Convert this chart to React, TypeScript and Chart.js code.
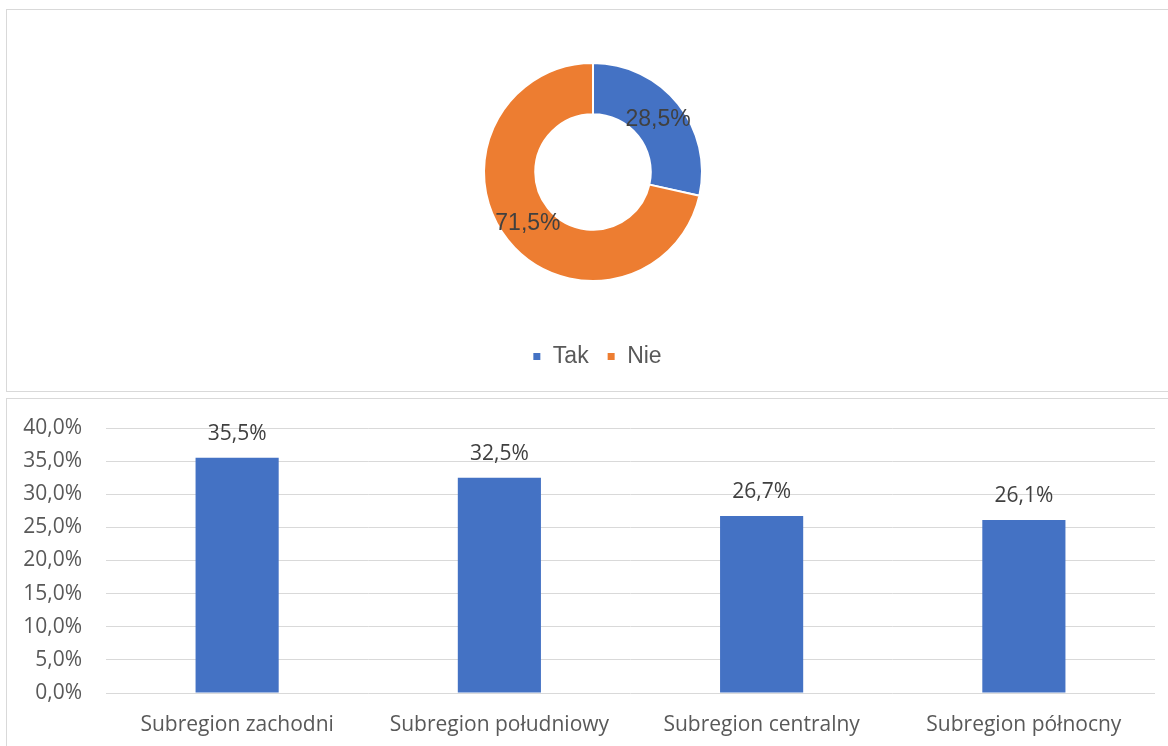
import React, { useEffect, useRef } from 'react';
import { Chart, registerables } from 'chart.js';

Chart.register(...registerables);

const pieLabels = ['Tak', 'Nie'];
const pieValues = [28.5, 71.5];
const pieColors = ['#4472C4', '#ED7D31'];

const regions = ['Subregion zachodni', 'Subregion południowy', 'Subregion centralny', 'Subregion północny'];
const regionValues = [35.5, 32.5, 26.7, 26.1];
const barColor = '#4472C4';

const yMin = 0;
const yMax = 40;
const yStep = 5;

const fmt = (v: number) => v.toFixed(1).replace('.', ',') + '%';

const BAR_FONT = '"Open Sans", "Noto Sans", sans-serif';
const PIE_FONT = '"Liberation Sans", Arial, sans-serif';

const pieLabelPlugin = {
  id: 'pieLabels',
  afterDatasetsDraw(chart: any) {
    const ctx = chart.ctx;
    const meta = chart.getDatasetMeta(0);
    ctx.save();
    ctx.font = `23px ${PIE_FONT}`;
    ctx.fillStyle = '#404040';
    ctx.textAlign = 'center';
    ctx.textBaseline = 'middle';
    meta.data.forEach((arc: any, i: number) => {
      const p = arc.tooltipPosition();
      ctx.fillText(fmt(pieValues[i]), p.x, p.y);
    });
    ctx.restore();
  },
};

const legendShiftPlugin = {
  id: 'legendShift',
  afterLayout(chart: any) {
    if (chart.legend) {
      chart.legend.left += 4;
      chart.legend.right += 4;
    }
  },
};

const barLabelPlugin = {
  id: 'barLabels',
  afterDatasetsDraw(chart: any) {
    const ctx = chart.ctx;
    const meta = chart.getDatasetMeta(0);
    ctx.save();
    ctx.font = `21px ${BAR_FONT}`;
    ctx.fillStyle = '#404040';
    ctx.textAlign = 'center';
    ctx.textBaseline = 'middle';
    meta.data.forEach((bar: any, i: number) => {
      ctx.fillText(fmt(regionValues[i]), bar.x, bar.y - 24);
    });
    ctx.restore();
  },
};

export default function App() {
  const pieRef = useRef<HTMLCanvasElement | null>(null);
  const barRef = useRef<HTMLCanvasElement | null>(null);

  useEffect(() => {
    const pie = new Chart(pieRef.current as HTMLCanvasElement, {
      type: 'doughnut',
      data: {
        labels: pieLabels,
        datasets: [
          {
            data: pieValues,
            backgroundColor: pieColors,
            borderColor: '#ffffff',
            borderWidth: 2,
          },
        ],
      },
      options: {
        responsive: false,
        animation: false,
        cutout: '53%',
        events: [],
        layout: { padding: 0 },
        plugins: {
          tooltip: { enabled: false },
          legend: {
            position: 'bottom',
            title: { display: true, text: '', font: { size: 10, lineHeight: 1 }, padding: { top: 35, bottom: 0 } },
            labels: {
              boxWidth: 9,
              boxHeight: 9,
              padding: 18,
              color: '#595959',
              font: { family: PIE_FONT, size: 23 },
            },
          },
        },
      },
      plugins: [pieLabelPlugin, legendShiftPlugin],
    } as any);

    const bar = new Chart(barRef.current as HTMLCanvasElement, {
      type: 'bar',
      data: {
        labels: regions,
        datasets: [
          {
            data: regionValues,
            backgroundColor: barColor,
            categoryPercentage: 1,
            barPercentage: 0.317,
          },
        ],
      },
      options: {
        responsive: false,
        animation: false,
        events: [],
        layout: { padding: { top: 30, right: 13, left: 0, bottom: 0 } },
        plugins: {
          legend: { display: false },
          tooltip: { enabled: false },
        },
        scales: {
          x: {
            grid: { display: false, drawTicks: false },
            border: { display: false },
            ticks: {
              color: '#595959',
              padding: 19,
              font: { family: BAR_FONT, size: 21 },
              maxRotation: 0,
            },
            afterFit(scale: any) {
              scale.height = 53;
            },
          },
          y: {
            min: yMin,
            max: yMax,
            grid: {
              color: '#d9d9d9',
              lineWidth: 1,
              drawTicks: true,
              tickLength: 22,
              tickColor: 'rgba(0,0,0,0)',
            },
            border: { display: false },
            ticks: {
              stepSize: yStep,
              color: '#595959',
              padding: 2,
              font: { family: BAR_FONT, size: 21 },
              callback: (v: any) => fmt(Number(v)),
            },
            afterFit(scale: any) {
              scale.width = 100;
            },
          },
        },
      },
      plugins: [barLabelPlugin],
    } as any);

    return () => {
      pie.destroy();
      bar.destroy();
    };
  }, []);

  return (
    <div
      style={{
        position: 'fixed',
        left: 0,
        top: 0,
        width: 1168,
        height: 746,
        overflow: 'hidden',
        background: '#ffffff',
      }}
    >
      <div
        style={{
          position: 'absolute',
          left: 6,
          top: 9,
          width: 1200,
          height: 383,
          boxSizing: 'border-box',
          border: '1px solid #d9d9d9',
        }}
      />
      <div
        style={{
          position: 'absolute',
          left: 6,
          top: 398,
          width: 1200,
          height: 400,
          boxSizing: 'border-box',
          border: '1px solid #d9d9d9',
        }}
      />
      <canvas
        ref={pieRef}
        width={400}
        height={316}
        style={{ position: 'absolute', left: 393, top: 62, width: 400, height: 316 }}
      />
      <canvas
        ref={barRef}
        width={1162}
        height={348}
        style={{ position: 'absolute', left: 6, top: 398, width: 1162, height: 348 }}
      />
    </div>
  );
}
